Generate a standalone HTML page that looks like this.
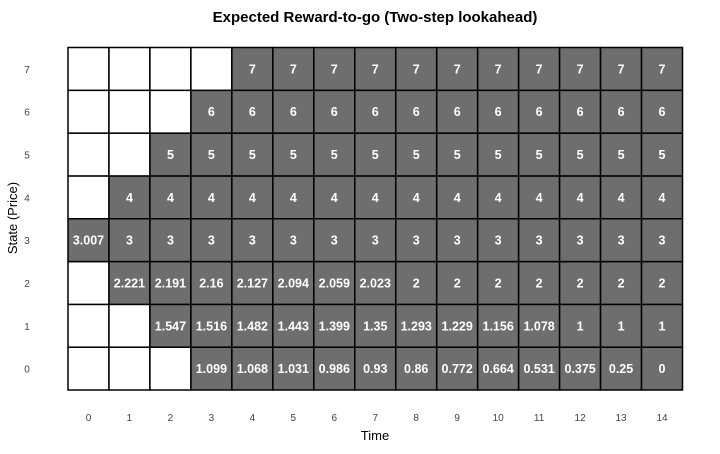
<!DOCTYPE html>
<html><head><meta charset="utf-8"><style>
body{margin:0;background:#fff;font-family:"Liberation Sans",Arial,sans-serif}
</style></head><body>
<svg id="c" width="720" height="449" xmlns="http://www.w3.org/2000/svg">
<text x="375" y="22" text-anchor="middle" font-size="15" font-weight="bold">Expected Reward-to-go (Two-step lookahead)</text>
<text x="375" y="440" text-anchor="middle" font-size="13">Time</text>
<text transform="translate(17,218) rotate(-90)" text-anchor="middle" font-size="13">State (Price)</text>
<g id="cells"></g><g id="ticks"></g>
</svg>
<script>
const times=[0,1,2,3,4,5,6,7,8,9,10,11,12,13,14];
const states=[0,1,2,3,4,5,6,7];
const row7=[null,null,null,null,"7","7","7","7","7","7","7","7","7","7","7"];
const row6=[null,null,null,"6","6","6","6","6","6","6","6","6","6","6","6"];
const row5=[null,null,"5","5","5","5","5","5","5","5","5","5","5","5","5"];
const row4=[null,"4","4","4","4","4","4","4","4","4","4","4","4","4","4"];
const row3=["3.007","3","3","3","3","3","3","3","3","3","3","3","3","3","3"];
const row2=[null,"2.221","2.191","2.16","2.127","2.094","2.059","2.023","2","2","2","2","2","2","2"];
const row1=[null,null,"1.547","1.516","1.482","1.443","1.399","1.35","1.293","1.229","1.156","1.078","1","1","1"];
const row0=[null,null,null,"1.099","1.068","1.031","0.986","0.93","0.86","0.772","0.664","0.531","0.375","0.25","0"];
const rows=[row0,row1,row2,row3,row4,row5,row6,row7];
const X0=68,X1=682.5,Y0=47.5,Y1=390;
const cw=(X1-X0)/times.length,ch=(Y1-Y0)/states.length;
const xs=i=>X0+i*cw, ys=s=>Y1-(s+1)*ch;
const NS="http://www.w3.org/2000/svg";
const cells=document.getElementById('cells'),ticks=document.getElementById('ticks');
function mk(t,a,p){const e=document.createElementNS(NS,t);for(const k in a)e.setAttribute(k,a[k]);p.appendChild(e);return e;}
states.forEach((s,si)=>{times.forEach((t,ti)=>{
 const v=rows[si][ti];
 const r=mk('rect',{x:xs(ti),y:ys(s),width:cw,height:ch,fill:v===null?'#fff':'#6e6e6e',stroke:'#000','stroke-width':1.5},cells);
 
 
 if(v!==null){const tx=mk('text',{x:xs(ti)+cw/2,y:ys(s)+ch/2+4.5,'text-anchor':'middle','font-size':12.5,'font-weight':'bold',fill:'#fff'},cells);tx.textContent=v;
 
 }
});});
times.forEach((t,ti)=>{const e=mk('text',{x:xs(ti)+cw/2,y:421,'text-anchor':'middle','font-size':10,fill:'#444'},ticks);e.textContent=t;
 
 });
states.forEach(s=>{const e=mk('text',{x:27,y:ys(s)+ch/2+4,'text-anchor':'middle','font-size':10,fill:'#444'},ticks);e.textContent=s;
 
 });
</script>
</body></html>
